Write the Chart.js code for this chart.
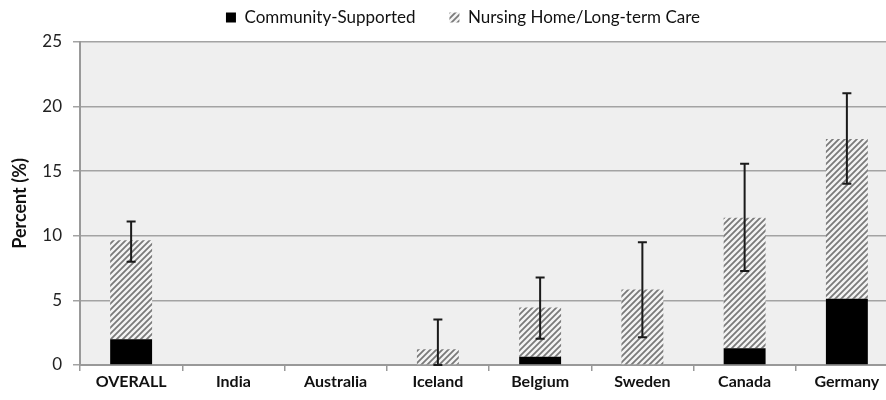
<!DOCTYPE html>
<html><head><meta charset="utf-8">
<script src="https://cdn.jsdelivr.net/npm/chart.js@4.4.1/dist/chart.umd.min.js"></script>
<style>html,body{margin:0;padding:0;background:#fff;overflow:hidden}#wrap{width:898px;height:400px}</style>
</head><body><div id="wrap"><canvas id="c" width="898" height="400"></canvas></div>
<script>
const categories = ["OVERALL","India","Australia","Iceland","Belgium","Sweden","Canada","Germany"];
const communitySupported = [2.0, 0, 0, 0, 0.64, 0, 1.29, 5.12];
const nursingHome = [7.65, 0, 0, 1.21, 3.81, 5.85, 10.11, 12.38];
const errLow = [8.0, null, null, 0, 2.03, 2.14, 7.28, 14.03];
const errHigh = [11.1, null, null, 3.53, 6.77, 9.5, 15.57, 21.03];
const yTicks = [0, 5, 10, 15, 20, 25];

function hatch(){
  const s = 6, c = document.createElement('canvas');
  c.width = s; c.height = s;
  const x = c.getContext('2d');
  x.fillStyle = '#f4f4f4'; x.fillRect(0,0,s,s);
  x.strokeStyle = '#7a7a7a'; x.lineWidth = 1.8;
  x.beginPath();
  x.moveTo(0,s); x.lineTo(s,0);
  x.moveTo(-1,1); x.lineTo(1,-1);
  x.moveTo(s-1,s+1); x.lineTo(s+1,s-1);
  x.stroke();
  return x.createPattern(c,'repeat');
}
const hp = hatch();

const FONT = "Lato, 'Liberation Sans', sans-serif";
const LEG_PAD = 34;

const bgPlugin = {
  id:'bg',
  beforeLayout(chart){
    const lg = chart.legend;
    if (lg && !lg._patched){
      const f = lg.fit;
      lg.fit = function(){ f.call(this); this.height = 42; };
      lg._patched = true;
    }
  },
  afterLayout(chart){
    const lg = chart.legend;
    if (lg){ lg.left += 14; lg.right += 14; lg.top = 18 - LEG_PAD - 9; }
  },
  beforeDraw(chart){
    const a = chart.chartArea, ctx = chart.ctx;
    ctx.save(); ctx.fillStyle = '#efefef';
    ctx.fillRect(a.left, a.top, a.right-a.left, a.bottom-a.top);
    ctx.restore();
  }
};
const errPlugin = {
  id:'err',
  afterDatasetsDraw(chart){
    const ctx = chart.ctx, xs = chart.scales.x, ys = chart.scales.y;
    ctx.save(); ctx.strokeStyle = '#1a1a1a'; ctx.lineWidth = 2;
    for (let i=0;i<categories.length;i++){
      if (errHigh[i]==null) continue;
      const x = xs.getPixelForValue(i);
      const yh = ys.getPixelForValue(errHigh[i]);
      const yl = ys.getPixelForValue(errLow[i]);
      ctx.beginPath();
      ctx.moveTo(x, yh); ctx.lineTo(x, yl);
      ctx.moveTo(x-4.5, yh); ctx.lineTo(x+4.5, yh);
      ctx.moveTo(x-4.5, yl); ctx.lineTo(x+4.5, yl);
      ctx.stroke();
    }
    ctx.restore();
  }
};

new Chart(document.getElementById('c'), {
  type:'bar',
  data:{
    labels: categories,
    datasets:[
      {label:'Community-Supported', data: communitySupported, backgroundColor:'#000', categoryPercentage:1, barPercentage:0.41},
      {label:'Nursing Home/Long-term Care', data: nursingHome, backgroundColor: hp, categoryPercentage:1, barPercentage:0.41}
    ]
  },
  options:{
    responsive:false, animation:false, devicePixelRatio:1,
    layout:{padding:{left:0,right:0,top:0,bottom:0}},
    plugins:{
      legend:{position:'top', labels:{font:{family:FONT,size:17}, color:'#111', boxWidth:10, boxHeight:10, padding:LEG_PAD}},
      tooltip:{enabled:false}
    },
    scales:{
      x:{stacked:true,
        grid:{drawOnChartArea:false, drawTicks:true, tickLength:6, offset:true, color:'#999', lineWidth:1.5},
        border:{color:'#999', width:2},
        ticks:{font:{family:FONT,size:16,weight:'bold'}, color:'#111', padding:1, maxRotation:0},
        afterFit(s){ s.height = 35; }
      },
      y:{stacked:true, min:0, max:25,
        afterBuildTicks(s){ s.ticks = yTicks.map(v=>({value:v})); },
        grid:{color:'#a3a3a3', lineWidth:1.5, tickLength:7},
        border:{color:'#999', width:2},
        ticks:{font:{family:FONT,size:17}, color:'#222', padding:11},
        title:{display:true, text:'Percent (%)', font:{family:FONT,size:18,weight:'bold'}, color:'#111', padding:{top:9,bottom:0}},
        afterFit(s){ s.width = 80; }
      }
    }
  },
  plugins:[bgPlugin, errPlugin]
});
</script></body></html>
